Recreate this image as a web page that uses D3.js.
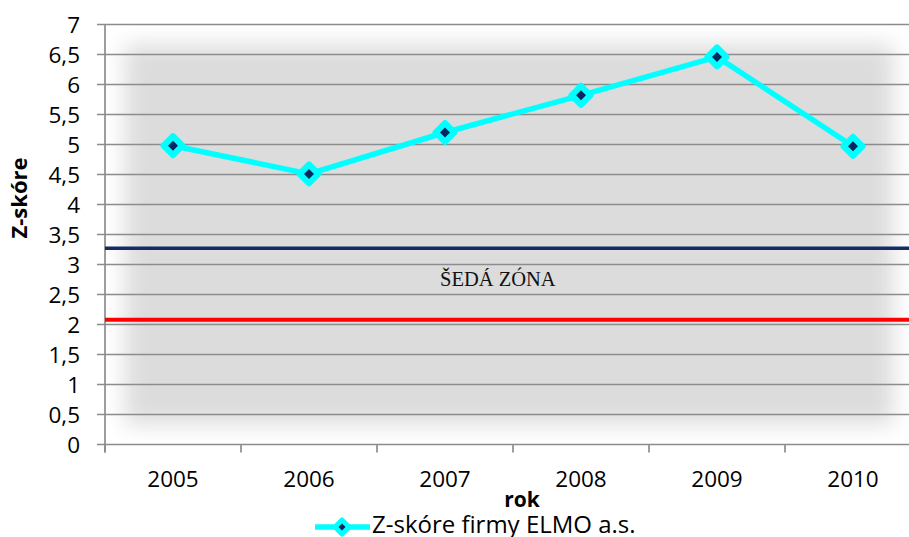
<!DOCTYPE html>
<html>
<head>
<meta charset="utf-8">
<script src="https://cdn.jsdelivr.net/npm/d3@7"></script>
<style>
  html, body { margin: 0; padding: 0; background: #fff; }
  svg { display: block; }
</style>
</head>
<body>
<svg id="chart" width="909" height="537"></svg>
<script>
// Altman Z-score of ELMO a.s., 2005–2010
const years = ["2005", "2006", "2007", "2008", "2009", "2010"];
const zScores = [4.98, 4.51, 5.20, 5.82, 6.46, 4.97];
const yTicks = [0, 0.5, 1, 1.5, 2, 2.5, 3, 3.5, 4, 4.5, 5, 5.5, 6, 6.5, 7];
const upperBound = 3.27;   // top of the grey zone
const lowerBound = 2.08;   // bottom of the grey zone
const zoneLabel = "ŠEDÁ ZÓNA";
const seriesName = "Z-skóre firmy ELMO a.s.";
const yTitle = "Z-skóre";
const xTitle = "rok";

const svg = d3.select("#chart");
const W = 909, H = 537;
const plot = { left: 105, right: 921, top: 24.5, bottom: 444.5 };
const font = "'Open Sans', 'DejaVu Sans', sans-serif";
const fmt = v => String(v).replace(".", ",");

const x = d3.scaleBand().domain(years).range([plot.left, plot.right]).padding(0);
const y = d3.scaleLinear().domain([0, 7]).range([plot.bottom, plot.top]);

const defs = svg.append("defs");
defs.append("clipPath").attr("id", "plotClip")
  .append("rect")
  .attr("x", plot.left).attr("y", plot.top)
  .attr("width", plot.right - plot.left).attr("height", plot.bottom - plot.top);
defs.append("filter").attr("id", "soft")
  .attr("x", "-10%").attr("y", "-10%").attr("width", "120%").attr("height", "120%")
  .append("feGaussianBlur").attr("stdDeviation", 11);

// plot area: grey fill fading to white at the borders
svg.append("g").attr("clip-path", "url(#plotClip)")
  .append("rect")
  .attr("x", plot.left + 20).attr("y", plot.top + 20)
  .attr("width", (W - 16) - (plot.left + 20))
  .attr("height", (plot.bottom - 20) - (plot.top + 20))
  .attr("fill", "#dcdcdc")
  .attr("filter", "url(#soft)");

// horizontal gridlines + y tick marks
const grid = svg.append("g");
grid.selectAll("line").data(yTicks.filter(d => d > 0)).join("line")
  .attr("x1", plot.left - 8).attr("x2", W)
  .attr("y1", d => y(d)).attr("y2", d => y(d))
  .attr("stroke", "#8c8c8c").attr("stroke-width", 1.7);

// axes lines
svg.append("line")
  .attr("x1", plot.left).attr("x2", plot.left)
  .attr("y1", plot.top).attr("y2", plot.bottom + 8)
  .attr("stroke", "#8c8c8c").attr("stroke-width", 1.7);
svg.append("line")
  .attr("x1", plot.left - 8).attr("x2", W)
  .attr("y1", y(0)).attr("y2", y(0))
  .attr("stroke", "#8c8c8c").attr("stroke-width", 1.7);

// x tick marks at category boundaries
const xEdges = years.map(d => x(d)).concat([plot.right]);
svg.append("g").selectAll("line").data(xEdges).join("line")
  .attr("x1", d => d).attr("x2", d => d)
  .attr("y1", y(0)).attr("y2", y(0) + 8)
  .attr("stroke", "#8c8c8c").attr("stroke-width", 1.7);

// y tick labels
svg.append("g").selectAll("text").data(yTicks).join("text")
  .attr("x", 80).attr("y", d => y(d))
  .attr("dy", "0.36em")
  .attr("text-anchor", "end")
  .attr("font-family", font).attr("font-size", 22.5)
  .attr("fill", "#000")
  .text(fmt);

// x tick labels
svg.append("g").selectAll("text").data(years).join("text")
  .attr("x", d => x(d) + x.bandwidth() / 2).attr("y", 487)
  .attr("text-anchor", "middle")
  .attr("font-family", font).attr("font-size", 22.5)
  .attr("fill", "#000")
  .text(d => d);

// grey-zone boundaries
svg.append("line")
  .attr("x1", plot.left).attr("x2", W)
  .attr("y1", y(upperBound)).attr("y2", y(upperBound))
  .attr("stroke", "#112d62").attr("stroke-width", 3.5);
svg.append("line")
  .attr("x1", plot.left).attr("x2", W)
  .attr("y1", y(lowerBound)).attr("y2", y(lowerBound))
  .attr("stroke", "#ff0000").attr("stroke-width", 4);

svg.append("text")
  .attr("x", 440).attr("y", 286)
  .attr("font-family", "'Liberation Serif', 'Times New Roman', serif")
  .attr("font-size", 20.5)
  .attr("fill", "#111")
  .text(zoneLabel);

// series line
const cx = d => x(d) + x.bandwidth() / 2;
const line = d3.line().x((d, i) => cx(years[i])).y(d => y(d));
svg.append("path")
  .datum(zScores)
  .attr("d", line)
  .attr("fill", "none")
  .attr("stroke", "#00ffff").attr("stroke-width", 5.5)
  .attr("stroke-linejoin", "round");

function diamond(r) {
  return `M0,${-r}L${r},0L0,${r}L${-r},0Z`;
}
function marker(sel, outer, inner, stroke) {
  sel.append("path").attr("d", diamond(outer))
    .attr("fill", "#00ffff").attr("stroke", "#00ffff")
    .attr("stroke-width", stroke).attr("stroke-linejoin", "round");
  sel.append("path").attr("d", diamond(inner))
    .attr("fill", "#0b2560");
}

svg.append("g").selectAll("g").data(zScores).join("g")
  .attr("transform", (d, i) => `translate(${cx(years[i])},${y(d)})`)
  .each(function () { marker(d3.select(this), 9.5, 5, 6); });

// axis titles
svg.append("text")
  .attr("transform", "translate(27,198) rotate(-90)")
  .attr("text-anchor", "middle")
  .attr("font-family", font).attr("font-size", 22).attr("font-weight", "bold")
  .text(yTitle);
svg.append("text")
  .attr("x", 522).attr("y", 507)
  .attr("text-anchor", "middle")
  .attr("font-family", font).attr("font-size", 21).attr("font-weight", "bold")
  .text(xTitle);

// legend
const lg = svg.append("g");
lg.append("line")
  .attr("x1", 315).attr("x2", 370).attr("y1", 527).attr("y2", 527)
  .attr("stroke", "#00ffff").attr("stroke-width", 5.5);
const lm = lg.append("g").attr("transform", "translate(342,527)");
marker(lm, 7, 3.5, 5);
lg.append("text")
  .attr("x", 372).attr("y", 533)
  .attr("font-family", font).attr("font-size", 24)
  .attr("fill", "#000")
  .text(seriesName);
</script>
</body>
</html>
